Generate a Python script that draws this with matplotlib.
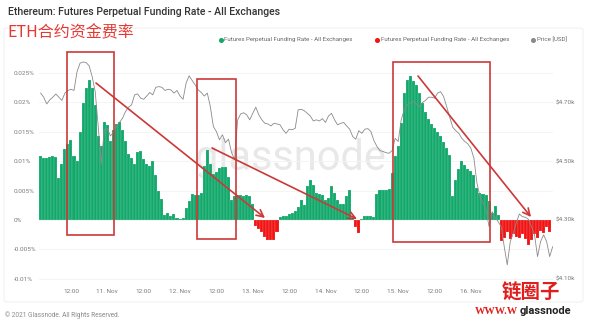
import numpy as np
import matplotlib
matplotlib.use('Agg')
import matplotlib.pyplot as plt
from matplotlib.patches import Rectangle, FancyArrowPatch, FancyBboxPatch
from matplotlib.lines import Line2D

W, H = 590, 322
green = '#12a86b'
red = '#f01414'
mark = '#cc3838'
tick_col = '#7a7a7a'
cjk = ['Noto Sans CJK SC', 'DejaVu Sans']
latin = ['Roboto', 'DejaVu Sans']

# hours counted from 10 Nov 00:00
rate_hours = np.arange(2, 171)
# funding rate in units of 0.001 %
funding = [
    10.8, 10.5, 10.6, 10.7, 10.8, 10.7, 7.2, 9.5, 12.0, 13.0, 13.6, 10.8, 10.0,
    15.0, 19.8, 22.5, 23.8, 22.5, 19.5, 14.2, 12.5, 16.7, 16.2, 13.5, 15.3, 16.4,
    16.6, 15.3, 13.4, 11.2, 10.5, 9.6, 11.6, 11.8, 10.3, 9.6, 9.1, 10.0, 7.6,
    5.0, 3.6, 0.8, 1.2, 0.7, 1.1, 0.4, 0.2, 0.3, 2.0, 3.2, 4.5, 4.3, 4.3,
    4.6, 9.1, 11.9, 9.6, 7.9, 8.2, 8.8, 9.0, 9.0, 7.3, 3.4, 4.0, 4.3, 4.2,
    4.0, 4.2, 4.0, 2.8,
    -1.0, -1.5, -2.1, -2.8, -3.4, -3.4, -3.4, -2.0,
    0.5, 0.6, 0.6, 1.0, 1.2, 1.5, 2.2, 3.4, 2.5, 5.7, 6.8, 6.0, 4.6, 4.4,
    4.2, 3.4, 3.7, 5.8, 4.6, 3.4, 2.8, 2.8, 4.0, 5.1, 0.4, -1.2, -2.2, 0.1,
    0.6, 0.7, 0.6, 0.5, 4.5, 5.1, 5.1, 5.1, 5.2, 8.0, 10.8, 12.5, 16.5, 21.5,
    23.8, 24.5, 23.6, 23.0, 21.5, 19.8, 18.4, 17.2, 16.4, 15.6, 15.0, 14.2,
    13.2, 12.3, 11.0, 4.0, 6.8, 8.6, 10.0, 9.3, 8.6, 8.4, 7.6, 5.5, 4.6, 4.4,
    4.2, 3.2, 1.2, 2.3, 0.8,
    -3.6, -3.0, -2.0, -3.3, -2.3, -2.8, -3.0, -2.4, -3.2, -4.3, -3.4, -2.4,
    -3.0, -1.8, -2.2, -1.2, -2.0,
]

price_hours = np.arange(2, 172)
price = [
    4732, 4718, 4695, 4709, 4718, 4729, 4718, 4707, 4732, 4741, 4745, 4741,
    4805, 4834, 4838, 4836, 4825, 4788, 4737, 4618, 4490, 4607, 4612, 4586,
    4598, 4618, 4632, 4646, 4669, 4684, 4692, 4726, 4729, 4715, 4711, 4722,
    4734, 4726, 4752, 4754, 4752, 4741, 4745, 4743, 4732, 4741, 4722, 4711,
    4766, 4791, 4775, 4760, 4743, 4734, 4722, 4732, 4686, 4618, 4601, 4573,
    4590, 4563, 4575, 4530, 4505, 4640, 4661, 4665, 4658, 4641, 4663, 4684,
    4658, 4641, 4629, 4627, 4620, 4629, 4627, 4624, 4607, 4595, 4609, 4607,
    4612, 4675, 4677, 4672, 4663, 4654, 4637, 4641, 4637, 4645, 4632, 4654,
    4663, 4641, 4624, 4629, 4632, 4620, 4609, 4584, 4575, 4604, 4595, 4609,
    4611, 4601, 4570, 4550, 4536, 4533, 4529, 4527, 4536, 4578, 4567, 4641,
    4675, 4692, 4698, 4703, 4695, 4686, 4700, 4707, 4718, 4718, 4715, 4732,
    4737, 4720, 4686, 4650, 4616, 4604, 4595, 4578, 4567, 4559, 4544, 4510,
    4425, 4380, 4359, 4334, 4277, 4328, 4309, 4294, 4277, 4209, 4147, 4226,
    4255, 4291, 4320, 4311, 4309, 4302, 4277, 4249, 4175, 4226, 4249, 4226,
    4175, 4209,
]

xtick_hours = [12, 24, 36, 48, 60, 72, 84, 96, 108, 120, 132, 144]
xtick_labels = ['12:00', '11. Nov', '12:00', '12. Nov', '12:00', '13. Nov', '12:00',
                '14. Nov', '12:00', '15. Nov', '12:00', '16. Nov']
ytick_vals = [-0.01, -0.005, 0, 0.005, 0.01, 0.015, 0.02, 0.025]
ytick_labels = ['-0.01%', '-0.005%', '0%', '0.005%', '0.01%', '0.015%', '0.02%', '0.025%']
price_ticks = [4100, 4300, 4500, 4700]
price_labels = ['$4.10k', '$4.30k', '$4.50k', '$4.70k']

rate = np.array(funding) / 1000.0


def px(x, y):
    return (x / W, 1 - y / H)


fig = plt.figure(figsize=(W / 100, H / 100), dpi=100)
fig.patch.set_facecolor('white')

# light card border
fig.add_artist(FancyBboxPatch(px(4, 302), 579 / W, 274 / H, boxstyle='round,pad=0,rounding_size=0.006',
                              transform=fig.transFigure, fc='none', ec='#ececec', lw=0.6))

ax = fig.add_axes([39 / W, 1 - 283 / H, 514 / W, 226 / H])
ax.set_xlim(1.45, 171.1)
ax.set_ylim(-0.0107, 0.0277)

ax.text(0.49, 0.55, 'glassnode', transform=ax.transAxes, fontsize=30, color='#e8e8e8',
        family=latin, ha='center', va='center', zorder=0)

colors = [green if v >= 0 else red for v in rate]
ax.bar(rate_hours, rate, width=1.0, color=colors, edgecolor='white', linewidth=0.1, zorder=2)

ax.set_yticks(ytick_vals)
ax.set_yticklabels(ytick_labels)
ax.set_xticks(xtick_hours)
ax.set_xticklabels(xtick_labels)
ax.grid(axis='y', color='#f3f3f3', lw=0.6, zorder=0)
ax.set_axisbelow(True)
for s in ax.spines.values():
    s.set_visible(False)
ax.tick_params(axis='both', length=0, labelsize=4.6, labelcolor=tick_col)
ax.tick_params(axis='y', pad=18)
ax.tick_params(axis='x', pad=4)
for lab in ax.get_yticklabels():
    lab.set_ha('left')
    lab.set_family(latin)
for lab in ax.get_xticklabels():
    lab.set_family(latin)

ax2 = ax.twinx()
ax2.set_ylim(4085, 4855)
ax2.plot(price_hours, price, color='#8a8a8a', lw=0.6, zorder=3)
ax2.set_yticks(price_ticks)
ax2.set_yticklabels(price_labels)
ax2.tick_params(axis='y', length=0, labelsize=4.6, labelcolor=tick_col, pad=2)
for lab in ax2.get_yticklabels():
    lab.set_family(latin)
for s in ax2.spines.values():
    s.set_visible(False)

# title and subtitle
fig.text(*px(8, 12), 'Ethereum: Futures Perpetual Funding Rate - All Exchanges', fontsize=7.6,
         color='#333333', family=latin, fontweight='medium', va='center', ha='left')
fig.text(*px(7, 33), 'ETH合约资金费率', fontsize=11.5, color='#e33a35', family=cjk,
         va='center', ha='left')

# legend row
legend_items = [(220.5, green, 'Futures Perpetual Funding Rate - All Exchanges'),
                (377, red, 'Futures Perpetual Funding Rate - All Exchanges'),
                (533, '#8a8a8a', 'Price [USD]')]
for lx, lc, lt in legend_items:
    fig.add_artist(Line2D([lx / W], [1 - 40 / H], marker='o', ms=2.6, color=lc, lw=0,
                          transform=fig.transFigure))
    fig.text(*px(lx + 4, 40), lt, fontsize=4.4, color='#666666', family=latin, va='center', ha='left')

# highlight boxes and trend arrows
for x0, y0, x1, y1 in [(67, 52, 114, 235), (197, 79, 236, 239), (393, 62, 490, 242)]:
    fig.add_artist(Rectangle(px(x0, y1), (x1 - x0) / W, (y1 - y0) / H, transform=fig.transFigure,
                             fill=False, ec=mark, lw=1.2))
for (xa, ya), (xb, yb) in [((96, 83), (265, 218)), ((212, 148), (357, 219)), ((418, 76), (531, 217))]:
    fig.add_artist(FancyArrowPatch(px(xa, ya), px(xb, yb), transform=fig.transFigure,
                                   arrowstyle='->,head_length=5,head_width=2.5', color=mark, lw=1.2,
                                   shrinkA=0, shrinkB=0))

fig.text(*px(5, 315), '© 2021 Glassnode. All Rights Reserved.', fontsize=4.7, color='#8a8a8a',
         family=latin, va='center', ha='left')

# corner stamps
fig.text(*px(502, 293), '链圈子', fontsize=14, color='#e01e1e', family=cjk, fontweight='bold',
         va='center', ha='left')
fig.text(*px(475, 311), 'WWW.W', fontsize=7.5, color='#e01e1e', family='Liberation Serif',
         fontweight='bold', va='center', ha='left')
fig.text(*px(520, 311), 'glassnode', fontsize=8, color='#222222', family=latin,
         fontweight='bold', va='center', ha='left')

fig.savefig('out.png', dpi=100, facecolor='white')
